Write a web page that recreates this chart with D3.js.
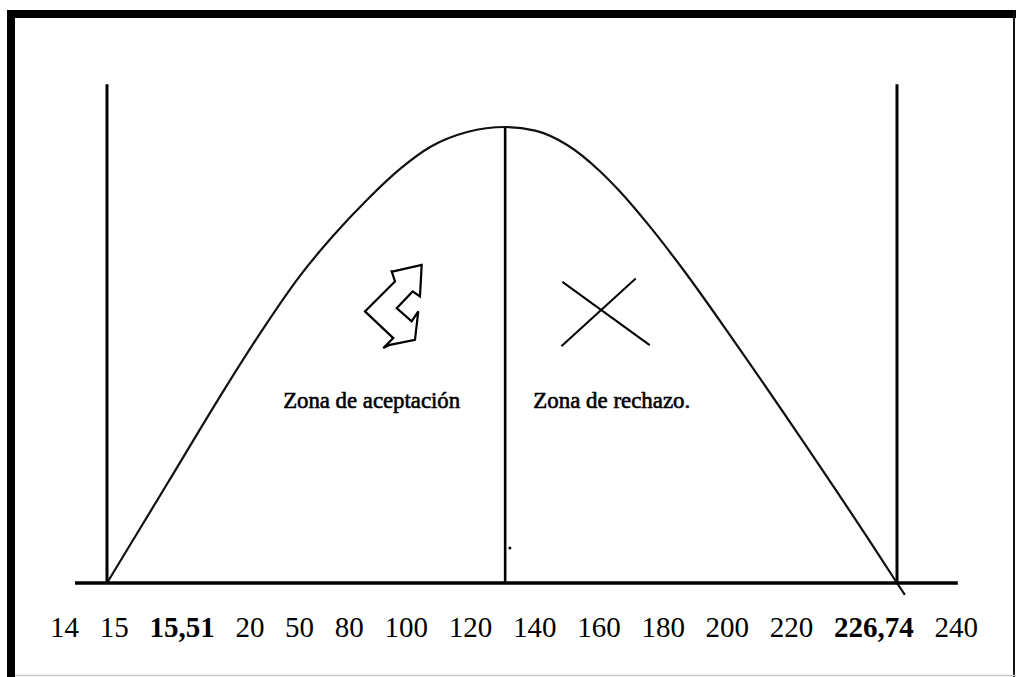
<!DOCTYPE html>
<html>
<head>
<meta charset="utf-8">
<title>Zona de aceptación / rechazo</title>
<script src="https://cdn.jsdelivr.net/npm/d3@7"></script>
<style>
    body { margin: 0; background: #fff; }
    svg { display: block; }
    text { font-family: "Liberation Serif", "Times New Roman", serif; fill: #000; }
</style>
</head>
<body>
<svg id="plot" width="1016" height="677"></svg>
<script>
// Data (x in % between the two outer verticals,
// y in % of the height of the peak)
var tickLabels = ["14", "15", "15,51", "20", "50", "80", "100", "120",
    "140", "160", "180", "200", "220", "226,74", "240"];
var boldLabels = ["15,51", "226,74"];
var curveX = [0, 7.6, 15.2, 19.4, 24.4, 28.6, 32.9, 37.1, 40.9, 45.6, 50.4,
    54.2, 58.2, 62.4, 64.9, 68.7, 72.9, 79.2, 87.7, 96.2, 100, 101];
var curveY = [0, 21.7, 43.4, 54.8, 67.3, 76.1, 84.0, 90.8, 95.6, 98.9, 100,
    99.2, 96.1, 90.3, 85.9, 78.2, 68.8, 53.5, 32.1, 10.1, 0, -2.6];
var zoneNames = ["Zona de aceptación", "Zona de rechazo."];
var zoneX = [33.5, 63.9];
var splitX = 50.4; // middle line, at the peak
var boundX = [0, 100]; // outer verticals
var dotPoint = [51.0, 7.7]; // the little stray dot near the middle line

var plotChart;

plotChart = function () {
    let svg = d3.select("#plot");
    let W = +svg.attr("width"),
        H = +svg.attr("height");

    // layout
    let left = 107, right = 897, base = 583, peak = 127;
    let lineTop = 109.4; // outer verticals go a bit above the peak
    let labelY = 637, labelStart = 50, labelEnd = 978;

    let xScale = d3.scaleLinear().domain([0, 100]).range([left, right]);
    let yScale = d3.scaleLinear().domain([0, 100]).range([base, peak]);

    // frame: thick top/left, thin right, faint bottom
    svg.append("rect").attr("x", 0).attr("y", 0)
        .attr("width", W).attr("height", H).attr("fill", "#fff");
    svg.append("path")
        .attr("d", "M11," + H + "V14H" + W)
        .attr("fill", "none").attr("stroke", "#000").attr("stroke-width", 8);
    svg.append("line")
        .attr("x1", W - 2).attr("x2", W - 2).attr("y1", 10).attr("y2", H)
        .attr("stroke", "#111").attr("stroke-width", 2);
    svg.append("line")
        .attr("x1", 15).attr("x2", W).attr("y1", H - 1.5).attr("y2", H - 1.5)
        .attr("stroke", "#c8c8c8").attr("stroke-width", 1.5);

    // outer verticals
    svg.selectAll(".bound")
        .data(boundX)
        .join("line")
        .attr("class", "bound")
        .attr("x1", d => xScale(d)).attr("x2", d => xScale(d))
        .attr("y1", yScale(lineTop)).attr("y2", yScale(0))
        .attr("stroke", "#000").attr("stroke-width", 3);

    // middle line at the peak
    svg.append("line")
        .attr("x1", xScale(splitX)).attr("x2", xScale(splitX))
        .attr("y1", yScale(100)).attr("y2", yScale(0))
        .attr("stroke", "#000").attr("stroke-width", 2.6);

    // the curve
    let pts = curveX.map((x, i) => [x, curveY[i]]);
    let line = d3.line()
        .x(d => xScale(d[0]))
        .y(d => yScale(d[1]))
        .curve(d3.curveMonotoneX);
    svg.append("path")
        .datum(pts)
        .attr("d", line)
        .attr("fill", "none")
        .attr("stroke", "#111")
        .attr("stroke-width", 2.2);

    // baseline, a bit wider than the verticals
    svg.append("line")
        .attr("x1", xScale(-4.05)).attr("x2", xScale(107.7))
        .attr("y1", yScale(0)).attr("y2", yScale(0))
        .attr("stroke", "#000").attr("stroke-width", 3.5);

    svg.append("circle")
        .attr("cx", xScale(dotPoint[0])).attr("cy", yScale(dotPoint[1]))
        .attr("r", 1.5).attr("fill", "#000");

    // zone labels (squeezed serif, like the scanned original)
    let zoneW = [177, 157];
    svg.selectAll(".zone")
        .data(zoneNames)
        .join("text")
        .attr("class", "zone")
        .attr("x", (d, i) => xScale(zoneX[i]))
        .attr("y", yScale(38.4))
        .attr("text-anchor", "middle")
        .attr("font-family", "Liberation Serif")
        .attr("font-size", 23)
        .attr("textLength", (d, i) => zoneW[i])
        .attr("lengthAdjust", "spacingAndGlyphs")
        .attr("stroke", "#000").attr("stroke-width", 0.6)
        .text(d => d);

    // "accept" arrow glyph (local offsets around its centre)
    let arrow = [[0.3, -35.7], [28.7, -42.3], [27, -10.7], [19.7, -15.7],
        [3.7, 1], [18.7, 14.3], [25.3, 4.3], [22, 32.7], [-3, 37.7],
        [-9.7, 41], [0.3, 31], [-28, 4.3], [2, -25.7], [-1.3, -35.7]];
    svg.append("path")
        .attr("transform", "translate(" + xScale(36.2) + "," + yScale(60.5) + ")")
        .attr("d", "M" + arrow.join("L") + "Z")
        .attr("fill", "none").attr("stroke", "#000")
        .attr("stroke-width", 2.2).attr("stroke-linejoin", "miter");

    // "reject" cross
    let cross = svg.append("g")
        .attr("transform", "translate(" + xScale(63.0) + "," + yScale(59.4) + ")")
        .attr("stroke", "#000").attr("stroke-width", 2);
    cross.append("line").attr("x1", -42.3).attr("y1", -30.3).attr("x2", 45).attr("y2", 33);
    cross.append("line").attr("x1", 31).attr("y1", -33.7).attr("x2", -43.3).attr("y2", 34);

    // tick labels flow along the bottom like typed text
    let labels = svg.selectAll(".tick-label")
        .data(tickLabels)
        .join("text")
        .attr("class", "tick-label")
        .attr("y", labelY)
        .attr("font-size", 29)
        .attr("font-weight", d => boldLabels.includes(d) ? "bold" : "normal")
        .text(d => d);
    let widths = [];
    labels.each(function () { widths.push(this.getComputedTextLength()); });
    let gap = (labelEnd - labelStart - d3.sum(widths)) / (widths.length - 1);
    let cursor = labelStart;
    labels.attr("x", (d, i) => {
        let x = cursor;
        cursor += widths[i] + gap;
        return x;
    });
};

plotChart();
</script>
</body>
</html>
